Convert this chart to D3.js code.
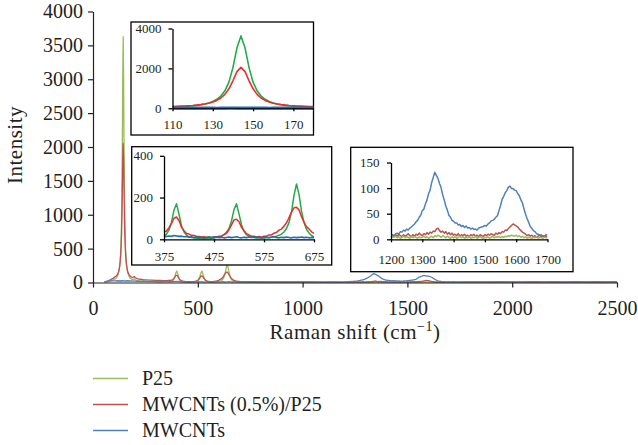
<!DOCTYPE html>
<html><head><meta charset="utf-8">
<script src="https://cdn.jsdelivr.net/npm/d3@7"></script>
<style>
html,body{margin:0;padding:0;background:#fff;}
svg{display:block;}
</style></head>
<body><svg id="chart" width="638" height="445"></svg>
<script>
// ---------- series names ----------
const seriesNames = ["P25", "MWCNTs (0.5%)/P25", "MWCNTs"];

// ---------- inset 1 region (110–180 cm-1) ----------
const shift1 = [110,112,114,116,118,120,122,124,126,128,130,132,134,136,138,140,142,144,146,148,150,152,154,156,158,160,162,164,166,168,170,172,174,176,178,180];
const p25_1  = [63,71,80,92,106,124,147,176,215,268,342,450,614,877,1313,2040,3030,3630,3030,2040,1313,877,614,450,342,268,215,176,147,124,106,92,80,71,63,56];
const comp_1 = [92,99,107,116,128,142,161,184,215,257,314,396,516,697,976,1380,1840,2050,1840,1380,976,697,516,396,314,257,215,184,161,142,128,116,107,99,92,86];
const cnt_1  = [24,21,27,23,19,26,22,28,20,25,23,18,26,21,24,27,20,23,25,19,22,26,21,24,18,25,22,27,20,23,26,19,24,21,25,22];

// ---------- inset 2 region (375–675 cm-1) ----------
const shift2 = [375,380,385,390,395,400,405,410,415,420,425,430,435,440,445,450,455,460,465,470,475,480,485,490,495,500,505,510,515,520,525,530,535,540,545,550,555,560,565,570,575,580,585,590,595,600,605,610,615,620,625,630,635,640,645,650,655,660,665,670,675];
const p25_2  = [14,25,45,82,140,170,120,65,35,20, 12,8,6,5,4,4,3,4,4,5, 6,8,11,15,22,33,52,88,142,170, 122,70,38,22,14,10,8,7,6,6, 6,7,8,10,12,15,19,25,35,52, 80,130,210,265,215,135,80,48,30,18, 12];
const comp_2 = [35,40,56,76,101,107,90,58,41,28, 25,19,18,15,14,11,12,10,11,9, 12,11,15,15,23,29,46,69,93,96, 84,57,41,27,21,15,15,11,14,10, 15,15,21,21,29,33,44,49,64,78, 104,130,151,153,141,108,82,60,50,36, 29];
const cnt_2  = [15,13,16,14,18,16,14,15,12,13, 10,12,9,11,8,10,7,9,11,8, 9,12,8,10,7,9,11,8,10,12, 9,7,10,8,11,9,12,8,10,7, 9,11,8,10,12,9,7,10,8,11, 9,7,10,8,9,11,8,10,7,9, 8];

// ---------- inset 3 region (1200–1700 cm-1) ----------
const shift3 = [1200,1205,1210,1215,1220,1225,1230,1235,1240,1245,1250,1255,1260,1265,1270,1275,1280,1285,1290,1295,1300,1305,1310,1315,1320,1325,1330,1335,1340,1345,1350,1355,1360,1365,1370,1375,1380,1385,1390,1395,1400,1405,1410,1415,1420,1425,1430,1435,1440,1445,1450,1455,1460,1465,1470,1475,1480,1485,1490,1495,1500,1505,1510,1515,1520,1525,1530,1535,1540,1545,1550,1555,1560,1565,1570,1575,1580,1585,1590,1595,1600,1605,1610,1615,1620,1625,1630,1635,1640,1645,1650,1655,1660,1665,1670,1675,1680,1685,1690,1695,1700];
const cnt_3  = [6,9,7,11,12,10,15,14,18,16, 20,18,22,24,27,30,34,37,43,47, 56,59,69,77,89,96,111,121,131,125, 119,109,101,87,77,65,57,47,43,37, 35,32,32,28,29,25,27,23,26,22, 23,20,22,19,20,18,22,23,24,25, 27,26,30,32,36,37,39,43,46,56, 66,78,84,91,95,102,104,99,99,96, 95,89,85,77,71,59,49,40,33,25, 21,17,15,11,10,8,9,6,7,5, 5];
const comp_3 = [4,7,5,9,6,10,7,5,9,6, 8,11,7,5,9,6,10,8,12,9, 7,11,9,13,10,14,12,16,15,20, 22,17,14,16,12,15,10,13,9,12, 8,10,7,11,6,9,7,10,6,8, 5,9,7,10,6,8,5,9,7,6, 9,7,10,8,11,9,8,12,10,13, 11,15,14,18,17,21,24,27,30,28, 26,24,20,17,14,12,10,7,9,6, 8,5,7,4,6,8,5,7,4,9, 8];
const p25_3  = [3,5,4,6,3,5,2,4,6,3, 5,4,2,6,3,5,4,2,5,3, 4,6,3,5,2,4,6,3,7,5, 8,6,4,7,5,3,6,4,2,5, 3,5,2,4,6,3,5,2,4,3, 5,2,4,3,6,2,4,5,3,2, 4,3,5,2,4,6,3,5,4,6, 3,5,4,6,5,7,6,8,7,6, 8,5,7,4,6,3,5,2,4,3, 2,4,3,5,2,4,3,2,4,3, 3];

// ---------- remaining parts of the full spectrum (main chart only) ----------
const shift0 = [55,65,75,85,95,100,105];
const p25_0  = [5,10,15,22,35,45,54];
const comp_0 = [10,18,28,42,60,72,84];
const cnt_0  = [14,18,21,23,24,25,24];

const shiftM1 = [184,188,193,197,202,208,215,225,240,260,280,300,320,340,355,365,370];
const p25_M1  = [50,46,48,52,40,32,27,23,19,15,12,10,9,9,10,11,12];
const comp_M1 = [80,76,80,88,70,60,54,48,43,38,35,32,30,29,30,32,33];
const cnt_M1  = [22,20,23,19,21,18,20,17,19,16,18,17,15,16,17,15,14];

const shiftM2 = [680,690,700,715,735,760,800,850,900,950,1000,1050,1100,1150,1180,1195];
const p25_M2  = [9,7,6,5,4,4,3,3,4,3,3,2,3,3,2,3];
const comp_M2 = [22,18,15,12,10,9,8,7,7,6,6,5,6,5,5,4];
const cnt_M2  = [9,11,8,10,9,11,8,10,9,8,10,9,7,8,7,6];

const shiftM3 = [1705,1720,1740,1770,1800,1850,1900,1950,2000,2050,2100,2150,2200,2250,2300,2350,2400,2450,2500];
const p25_M3  = [3,2,3,2,3,2,3,2,3,2,3,2,3,2,3,2,3,2,3];
const comp_M3 = [7,6,5,6,5,5,4,5,4,5,4,5,4,4,5,4,4,5,4];
const cnt_M3  = [6,8,7,9,8,10,9,11,10,9,11,10,12,10,11,9,12,10,11];

// ---------- tick values ----------
const mainXTicks = [0,500,1000,1500,2000,2500];
const mainYTicks = [0,500,1000,1500,2000,2500,3000,3500,4000];
const in1XTicks = [110,130,150,170], in1YTicks = [0,2000,4000];
const in2XTicks = [375,475,575,675], in2YTicks = [0,200,400];
const in3XTicks = [1200,1300,1400,1500,1600,1700], in3YTicks = [0,50,100,150];

// ---------- helpers ----------
function pairs(xs, ys){ return xs.map((x,i)=>[x, ys[i]]); }
function merge(parts){ return parts.flatMap(([xs,ys])=>pairs(xs,ys)).sort((a,b)=>a[0]-b[0]); }

const fullP25  = merge([[shift0,p25_0],[shift1,p25_1],[shiftM1,p25_M1],[shift2,p25_2],[shiftM2,p25_M2],[shift3,p25_3],[shiftM3,p25_M3]]);
const fullComp = merge([[shift0,comp_0],[shift1,comp_1],[shiftM1,comp_M1],[shift2,comp_2],[shiftM2,comp_M2],[shift3,comp_3],[shiftM3,comp_M3]]);
const fullCnt  = merge([[shift0,cnt_0],[shift1,cnt_1],[shiftM1,cnt_M1],[shift2,cnt_2],[shiftM2,cnt_M2],[shift3,cnt_3],[shiftM3,cnt_M3]]);

const FONT = "Liberation Serif";
const svg = d3.select("#chart").attr("font-family", FONT);
const TXT = "#231f20";

// ---------- main chart ----------
const x = d3.scaleLinear().domain([0,2500]).range([93,617]);
const y = d3.scaleLinear().domain([0,4000]).range([282.5,11.5]);
const mainColors = ["#9bbb59","#c0504d","#4f81bd"];

const gMain = svg.append("g");
const lineMain = d3.line().x(d=>x(d[0])).y(d=>y(d[1]));
[fullP25, fullComp, fullCnt].forEach((s,i)=>{
  gMain.append("path").datum(s).attr("d", lineMain)
    .attr("fill","none").attr("stroke", mainColors[i]).attr("stroke-width",1.3).attr("stroke-linejoin","round");
});

function styleAxis(g, fs, col, sw){
  g.attr("font-family", FONT).attr("font-size", fs);
  g.select(".domain").attr("stroke", col).attr("stroke-width", sw);
  g.selectAll(".tick line").attr("stroke", col).attr("stroke-width", sw);
  g.selectAll(".tick text").attr("fill", TXT);
}

const gx = svg.append("g").attr("transform","translate(0,282.5)")
  .call(d3.axisBottom(x).tickValues(mainXTicks).tickSize(5).tickSizeOuter(0).tickPadding(13).tickFormat(d3.format("d")));
styleAxis(gx, 20, "#222", 1.2);
const gy = svg.append("g").attr("transform","translate(93,0)")
  .call(d3.axisLeft(y).tickValues(mainYTicks).tickSize(5).tickSizeOuter(0).tickPadding(5).tickFormat(d3.format("d")));
styleAxis(gy, 20, "#222", 1.2);

svg.append("text").attr("x",355).attr("y",339).attr("text-anchor","middle")
  .attr("fill",TXT).attr("font-size",21).attr("letter-spacing",0.5)
  .call(t=>{
    t.append("tspan").text("Raman shift (cm");
    t.append("tspan").attr("dy",-8).attr("font-size",14).text("−1");
    t.append("tspan").attr("dy",8).text(")");
  });
svg.append("text").attr("transform","translate(22,145) rotate(-90)").attr("text-anchor","middle")
  .attr("fill",TXT).attr("font-size",21).attr("letter-spacing",0.5).text("Intensity");

// ---------- legend ----------
const legY = [378.5,404.5,430.5];
seriesNames.forEach((n,i)=>{
  svg.append("line").attr("x1",93).attr("x2",128).attr("y1",legY[i]).attr("y2",legY[i])
    .attr("stroke",mainColors[i]).attr("stroke-width",1.5);
  svg.append("text").attr("x",142).attr("y",legY[i]).attr("dy","0.33em")
    .attr("fill",TXT).attr("font-size",20).text(n);
});

// ---------- inset helper ----------
function inset(cfg){
  const g = svg.append("g");
  g.append("rect").attr("x",cfg.box[0]).attr("y",cfg.box[1]).attr("width",cfg.box[2]).attr("height",cfg.box[3])
    .attr("fill","#fff").attr("stroke","#000").attr("stroke-width",1.3);
  const xs = d3.scaleLinear().domain(cfg.xd).range(cfg.xr);
  const ys = d3.scaleLinear().domain(cfg.yd).range(cfg.yr);
  const clipId = "clip"+cfg.id;
  g.append("clipPath").attr("id",clipId).append("rect")
    .attr("x",cfg.xr[0]).attr("y",cfg.yr[1]-2).attr("width",cfg.xr[1]-cfg.xr[0]).attr("height",cfg.yr[0]-cfg.yr[1]+4);
  const ln = d3.line().x(d=>xs(d[0])).y(d=>ys(d[1]));
  const gl = g.append("g").attr("clip-path",`url(#${clipId})`);
  cfg.series.forEach(s=>{
    gl.append("path").datum(s.data).attr("d",ln).attr("fill","none")
      .attr("stroke",s.color).attr("stroke-width",s.w).attr("stroke-linejoin","round");
  });
  const ax = g.append("g").attr("transform",`translate(0,${cfg.yr[0]})`)
    .call(d3.axisBottom(xs).tickValues(cfg.xt).tickSize(3).tickSizeOuter(0).tickPadding(cfg.xpad).tickFormat(d3.format("d")));
  styleAxis(ax, cfg.fs, "#000", 1.3);
  const ay = g.append("g").attr("transform",`translate(${cfg.xr[0]},0)`)
    .call(d3.axisLeft(ys).tickValues(cfg.yt).tickSize(4).tickSizeOuter(0).tickPadding(cfg.ypad).tickFormat(d3.format("d")));
  styleAxis(ay, cfg.fs, "#000", 1.3);
}

inset({id:1, box:[131,22,182.5,113], xd:[110,180], xr:[172.5,313.5], yd:[0,4000], yr:[108.3,28.5],
  xt:in1XTicks, yt:in1YTicks, fs:13, xpad:8, ypad:7,
  series:[
    {data:pairs(shift1,p25_1), color:"#22ab4b", w:1.6},
    {data:pairs(shift1,comp_1), color:"#ee2a2a", w:1.6},
    {data:pairs(shift1,cnt_1), color:"#1f6db5", w:2.6}
  ]});

inset({id:2, box:[131.7,146.7,200,118.3], xd:[375,675], xr:[164,314], yd:[0,400], yr:[239.3,155.8],
  xt:in2XTicks, yt:in2YTicks, fs:13, xpad:9, ypad:7,
  series:[
    {data:pairs(shift2,p25_2), color:"#22ab4b", w:1.5},
    {data:pairs(shift2,comp_2), color:"#ee2a2a", w:1.5},
    {data:pairs(shift2,cnt_2), color:"#1f6db5", w:1.6}
  ]});

inset({id:3, box:[350.7,147.3,222.3,124.4], xd:[1200,1700], xr:[391,547.5], yd:[0,150], yr:[239.3,162.5],
  xt:in3XTicks, yt:in3YTicks, fs:13, xpad:12, ypad:7.5,
  series:[
    {data:pairs(shift3,cnt_3), color:"#4f81bd", w:1.5},
    {data:pairs(shift3,comp_3), color:"#c0504d", w:1.5},
    {data:pairs(shift3,p25_3), color:"#9bbb59", w:1.5}
  ]});
</script>
</body></html>
